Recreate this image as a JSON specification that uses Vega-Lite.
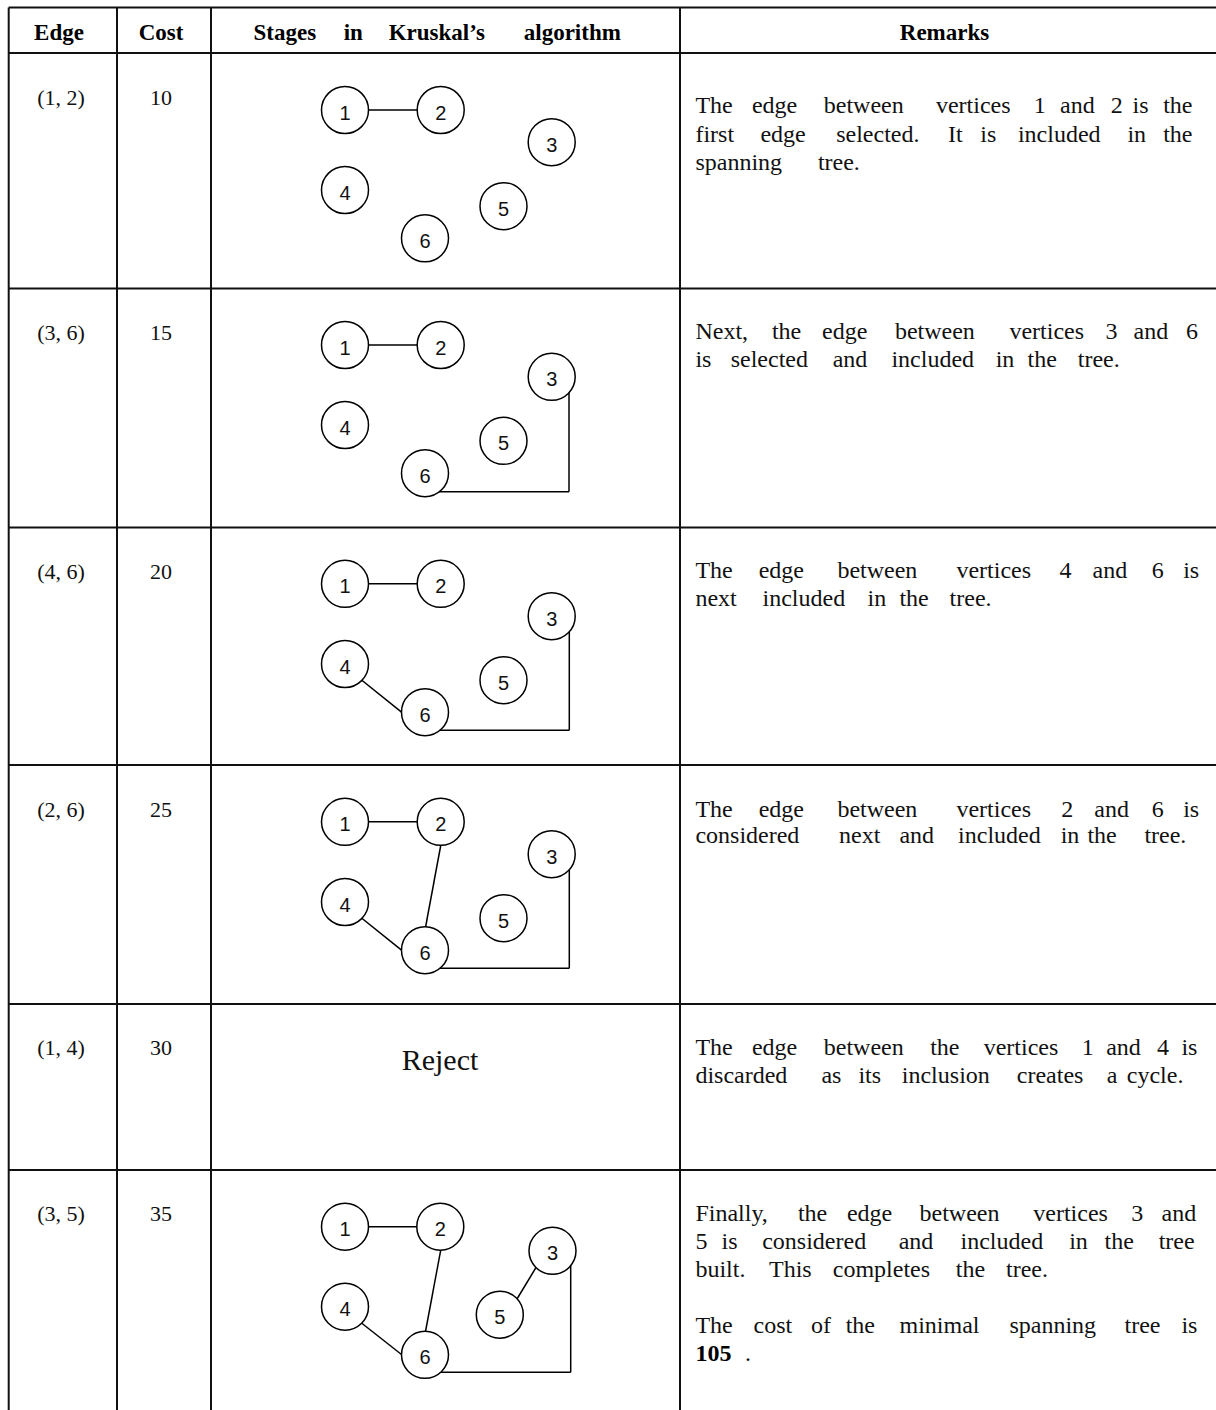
{
  "$schema": "https://vega.github.io/schema/vega-lite/v6.json",
  "width": 1216,
  "height": 1410,
  "autosize": {"type": "none"},
  "padding": 0,
  "background": "white",
  "config": {"view": {"stroke": null}},
  "datasets": {
    "lines": [
      {"kind": "grid", "x": 8.7, "y": 7.5, "x2": 1216, "y2": 7.5},
      {"kind": "grid", "x": 8.7, "y": 53, "x2": 1216, "y2": 53},
      {"kind": "grid", "x": 8.7, "y": 288.5, "x2": 1216, "y2": 288.5},
      {"kind": "grid", "x": 8.7, "y": 527.5, "x2": 1216, "y2": 527.5},
      {"kind": "grid", "x": 8.7, "y": 765, "x2": 1216, "y2": 765},
      {"kind": "grid", "x": 8.7, "y": 1004, "x2": 1216, "y2": 1004},
      {"kind": "grid", "x": 8.7, "y": 1170, "x2": 1216, "y2": 1170},
      {"kind": "grid", "x": 8.7, "y": 7.5, "x2": 8.7, "y2": 1410},
      {"kind": "grid", "x": 117, "y": 7.5, "x2": 117, "y2": 1410},
      {"kind": "grid", "x": 211, "y": 7.5, "x2": 211, "y2": 1410},
      {"kind": "grid", "x": 680, "y": 7.5, "x2": 680, "y2": 1410},
      {"kind": "edge", "x": 345, "y": 110, "x2": 440.7, "y2": 110},
      {"kind": "edge", "x": 345, "y": 345, "x2": 440.7, "y2": 345},
      {"kind": "edge", "x": 569, "y": 376.8, "x2": 569, "y2": 491.7},
      {"kind": "edge", "x": 425, "y": 491.7, "x2": 569, "y2": 491.7},
      {"kind": "edge", "x": 345, "y": 583.8, "x2": 440.7, "y2": 583.8},
      {"kind": "edge", "x": 361.5, "y": 680, "x2": 401.5, "y2": 712.2},
      {"kind": "edge", "x": 569.3, "y": 616.2, "x2": 569.3, "y2": 730.3},
      {"kind": "edge", "x": 425, "y": 730.3, "x2": 569.3, "y2": 730.3},
      {"kind": "edge", "x": 345, "y": 821.8, "x2": 440.7, "y2": 821.8},
      {"kind": "edge", "x": 361.5, "y": 918, "x2": 401.5, "y2": 950.2},
      {"kind": "edge", "x": 441, "y": 844, "x2": 425.3, "y2": 928.5},
      {"kind": "edge", "x": 569.3, "y": 854.2, "x2": 569.3, "y2": 968.3},
      {"kind": "edge", "x": 425, "y": 968.3, "x2": 569.3, "y2": 968.3},
      {"kind": "edge", "x": 345, "y": 1226.7, "x2": 440.3, "y2": 1226.7},
      {"kind": "edge", "x": 361.5, "y": 1323, "x2": 401.5, "y2": 1354.5},
      {"kind": "edge", "x": 441, "y": 1248.7, "x2": 425.3, "y2": 1332.5},
      {"kind": "edge", "x": 536, "y": 1267.5, "x2": 517.3, "y2": 1298.5},
      {"kind": "edge", "x": 570.7, "y": 1250.8, "x2": 570.7, "y2": 1372.3},
      {"kind": "edge", "x": 425, "y": 1372.3, "x2": 570.7, "y2": 1372.3}
    ],
    "nodes": [
      {"n": "1", "x": 345, "y": 110}, {"n": "2", "x": 440.7, "y": 110}, {"n": "3", "x": 551.7, "y": 142.2},
      {"n": "4", "x": 345, "y": 190}, {"n": "5", "x": 503.5, "y": 206.2}, {"n": "6", "x": 425, "y": 238.3},
      {"n": "1", "x": 345, "y": 345}, {"n": "2", "x": 440.7, "y": 345}, {"n": "3", "x": 551.7, "y": 376.8},
      {"n": "4", "x": 345, "y": 425}, {"n": "5", "x": 503.5, "y": 440.8}, {"n": "6", "x": 425, "y": 473.2},
      {"n": "1", "x": 345, "y": 583.8}, {"n": "2", "x": 440.7, "y": 583.8}, {"n": "3", "x": 551.7, "y": 616.2},
      {"n": "4", "x": 345, "y": 664}, {"n": "5", "x": 503.5, "y": 680.2}, {"n": "6", "x": 425, "y": 712.2},
      {"n": "1", "x": 345, "y": 821.8}, {"n": "2", "x": 440.7, "y": 821.8}, {"n": "3", "x": 551.7, "y": 854.2},
      {"n": "4", "x": 345, "y": 902}, {"n": "5", "x": 503.5, "y": 918.2}, {"n": "6", "x": 425, "y": 950.2},
      {"n": "1", "x": 345, "y": 1226.7}, {"n": "2", "x": 440.3, "y": 1226.7}, {"n": "3", "x": 552.5, "y": 1250.8},
      {"n": "4", "x": 345, "y": 1306.7}, {"n": "5", "x": 499.8, "y": 1314.7}, {"n": "6", "x": 425, "y": 1354.8}
    ],
    "texts": [
      {"role": "header", "t": "Edge", "x": 59, "y": 39.5},
      {"role": "header", "t": "Cost", "x": 161, "y": 39.5},
      {"role": "header", "t": "Stages", "x": 284.8, "y": 39.5},
      {"role": "header", "t": "in", "x": 353.3, "y": 39.5},
      {"role": "header", "t": "Kruskal’s", "x": 436.8, "y": 39.5},
      {"role": "header", "t": "algorithm", "x": 572.3, "y": 39.5},
      {"role": "header", "t": "Remarks", "x": 944.5, "y": 39.5},
      {"role": "cell", "t": "(1, 2)", "x": 61, "y": 104.5},
      {"role": "cell", "t": "10", "x": 161, "y": 104.5},
      {"role": "cell", "t": "(3, 6)", "x": 61, "y": 340},
      {"role": "cell", "t": "15", "x": 161, "y": 340},
      {"role": "cell", "t": "(4, 6)", "x": 61, "y": 579},
      {"role": "cell", "t": "20", "x": 161, "y": 579},
      {"role": "cell", "t": "(2, 6)", "x": 61, "y": 817},
      {"role": "cell", "t": "25", "x": 161, "y": 817},
      {"role": "cell", "t": "(1, 4)", "x": 61, "y": 1055},
      {"role": "cell", "t": "30", "x": 161, "y": 1055},
      {"role": "cell", "t": "(3, 5)", "x": 61, "y": 1221},
      {"role": "cell", "t": "35", "x": 161, "y": 1221},
      {"role": "reject", "t": "Reject", "x": 440, "y": 1070},
      {"role": "remark", "t": "The", "x": 695.4, "y": 113.3},
      {"role": "remark", "t": "edge", "x": 751.9, "y": 113.3},
      {"role": "remark", "t": "between", "x": 823.8, "y": 113.3},
      {"role": "remark", "t": "vertices", "x": 935.9, "y": 113.3},
      {"role": "remark", "t": "1", "x": 1033.8, "y": 113.3},
      {"role": "remark", "t": "and", "x": 1060.1, "y": 113.3},
      {"role": "remark", "t": "2", "x": 1110.8, "y": 113.3},
      {"role": "remark", "t": "is", "x": 1132.5, "y": 113.3},
      {"role": "remark", "t": "the", "x": 1163.2, "y": 113.3},
      {"role": "remark", "t": "first", "x": 695.4, "y": 141.7},
      {"role": "remark", "t": "edge", "x": 760.4, "y": 141.7},
      {"role": "remark", "t": "selected.", "x": 836.2, "y": 141.7},
      {"role": "remark", "t": "It", "x": 947.9, "y": 141.7},
      {"role": "remark", "t": "is", "x": 980.3, "y": 141.7},
      {"role": "remark", "t": "included", "x": 1017.9, "y": 141.7},
      {"role": "remark", "t": "in", "x": 1127.4, "y": 141.7},
      {"role": "remark", "t": "the", "x": 1163.2, "y": 141.7},
      {"role": "remark", "t": "spanning", "x": 695.4, "y": 170},
      {"role": "remark", "t": "tree.", "x": 817.9, "y": 170},
      {"role": "remark", "t": "Next,", "x": 695.4, "y": 339},
      {"role": "remark", "t": "the", "x": 771.9, "y": 339},
      {"role": "remark", "t": "edge", "x": 822, "y": 339},
      {"role": "remark", "t": "between", "x": 894.9, "y": 339},
      {"role": "remark", "t": "vertices", "x": 1009.4, "y": 339},
      {"role": "remark", "t": "3", "x": 1105.6, "y": 339},
      {"role": "remark", "t": "and", "x": 1133.6, "y": 339},
      {"role": "remark", "t": "6", "x": 1186, "y": 339},
      {"role": "remark", "t": "is", "x": 695.4, "y": 366.7},
      {"role": "remark", "t": "selected", "x": 730.7, "y": 366.7},
      {"role": "remark", "t": "and", "x": 832.7, "y": 366.7},
      {"role": "remark", "t": "included", "x": 891.4, "y": 366.7},
      {"role": "remark", "t": "in", "x": 995.7, "y": 366.7},
      {"role": "remark", "t": "the", "x": 1027.6, "y": 366.7},
      {"role": "remark", "t": "tree.", "x": 1077.8, "y": 366.7},
      {"role": "remark", "t": "The", "x": 695.4, "y": 578.3},
      {"role": "remark", "t": "edge", "x": 758.7, "y": 578.3},
      {"role": "remark", "t": "between", "x": 837.4, "y": 578.3},
      {"role": "remark", "t": "vertices", "x": 956.4, "y": 578.3},
      {"role": "remark", "t": "4", "x": 1059.5, "y": 578.3},
      {"role": "remark", "t": "and", "x": 1092.6, "y": 578.3},
      {"role": "remark", "t": "6", "x": 1151.8, "y": 578.3},
      {"role": "remark", "t": "is", "x": 1183.2, "y": 578.3},
      {"role": "remark", "t": "next", "x": 695.4, "y": 605.7},
      {"role": "remark", "t": "included", "x": 762.5, "y": 605.7},
      {"role": "remark", "t": "in", "x": 867.5, "y": 605.7},
      {"role": "remark", "t": "the", "x": 899.4, "y": 605.7},
      {"role": "remark", "t": "tree.", "x": 949.6, "y": 605.7},
      {"role": "remark", "t": "The", "x": 695.4, "y": 816.7},
      {"role": "remark", "t": "edge", "x": 758.7, "y": 816.7},
      {"role": "remark", "t": "between", "x": 837.4, "y": 816.7},
      {"role": "remark", "t": "vertices", "x": 956.4, "y": 816.7},
      {"role": "remark", "t": "2", "x": 1061.2, "y": 816.7},
      {"role": "remark", "t": "and", "x": 1094.3, "y": 816.7},
      {"role": "remark", "t": "6", "x": 1151.8, "y": 816.7},
      {"role": "remark", "t": "is", "x": 1183.2, "y": 816.7},
      {"role": "remark", "t": "considered", "x": 695.4, "y": 843.3},
      {"role": "remark", "t": "next", "x": 839.1, "y": 843.3},
      {"role": "remark", "t": "and", "x": 899.4, "y": 843.3},
      {"role": "remark", "t": "included", "x": 958.1, "y": 843.3},
      {"role": "remark", "t": "in", "x": 1060.7, "y": 843.3},
      {"role": "remark", "t": "the", "x": 1087.4, "y": 843.3},
      {"role": "remark", "t": "tree.", "x": 1144.4, "y": 843.3},
      {"role": "remark", "t": "The", "x": 695.4, "y": 1055},
      {"role": "remark", "t": "edge", "x": 751.9, "y": 1055},
      {"role": "remark", "t": "between", "x": 823.8, "y": 1055},
      {"role": "remark", "t": "the", "x": 930.2, "y": 1055},
      {"role": "remark", "t": "vertices", "x": 983.7, "y": 1055},
      {"role": "remark", "t": "1", "x": 1081.7, "y": 1055},
      {"role": "remark", "t": "and", "x": 1106.2, "y": 1055},
      {"role": "remark", "t": "4", "x": 1156.9, "y": 1055},
      {"role": "remark", "t": "is", "x": 1181.4, "y": 1055},
      {"role": "remark", "t": "discarded", "x": 695.4, "y": 1082.7},
      {"role": "remark", "t": "as", "x": 821.4, "y": 1082.7},
      {"role": "remark", "t": "its", "x": 858.4, "y": 1082.7},
      {"role": "remark", "t": "inclusion", "x": 901.8, "y": 1082.7},
      {"role": "remark", "t": "creates", "x": 1016.8, "y": 1082.7},
      {"role": "remark", "t": "a", "x": 1106.7, "y": 1082.7},
      {"role": "remark", "t": "cycle.", "x": 1126.8, "y": 1082.7},
      {"role": "remark", "t": "Finally,", "x": 695.4, "y": 1220.7},
      {"role": "remark", "t": "the", "x": 797.9, "y": 1220.7},
      {"role": "remark", "t": "edge", "x": 846.9, "y": 1220.7},
      {"role": "remark", "t": "between", "x": 919.5, "y": 1220.7},
      {"role": "remark", "t": "vertices", "x": 1033.3, "y": 1220.7},
      {"role": "remark", "t": "3", "x": 1131.3, "y": 1220.7},
      {"role": "remark", "t": "and", "x": 1161.5, "y": 1220.7},
      {"role": "remark", "t": "5", "x": 695.4, "y": 1249},
      {"role": "remark", "t": "is", "x": 721.5, "y": 1249},
      {"role": "remark", "t": "considered", "x": 762.2, "y": 1249},
      {"role": "remark", "t": "and", "x": 898.7, "y": 1249},
      {"role": "remark", "t": "included", "x": 960.5, "y": 1249},
      {"role": "remark", "t": "in", "x": 1069.2, "y": 1249},
      {"role": "remark", "t": "the", "x": 1104.5, "y": 1249},
      {"role": "remark", "t": "tree", "x": 1158.7, "y": 1249},
      {"role": "remark", "t": "built.", "x": 695.4, "y": 1277.3},
      {"role": "remark", "t": "This", "x": 769, "y": 1277.3},
      {"role": "remark", "t": "completes", "x": 832.8, "y": 1277.3},
      {"role": "remark", "t": "the", "x": 955.8, "y": 1277.3},
      {"role": "remark", "t": "tree.", "x": 1006, "y": 1277.3},
      {"role": "remark", "t": "The", "x": 695.4, "y": 1333.3},
      {"role": "remark", "t": "cost", "x": 753.6, "y": 1333.3},
      {"role": "remark", "t": "of", "x": 811.1, "y": 1333.3},
      {"role": "remark", "t": "the", "x": 845.7, "y": 1333.3},
      {"role": "remark", "t": "minimal", "x": 899.5, "y": 1333.3},
      {"role": "remark", "t": "spanning", "x": 1009.4, "y": 1333.3},
      {"role": "remark", "t": "tree", "x": 1124.5, "y": 1333.3},
      {"role": "remark", "t": "is", "x": 1181.4, "y": 1333.3},
      {"role": "remarkbold", "t": "105", "x": 695.4, "y": 1360.7},
      {"role": "remark", "t": ".", "x": 745, "y": 1360.7}
    ]
  },
  "encoding": {
    "x": {"field": "x", "type": "quantitative", "scale": {"domain": [0, 1216], "nice": false, "zero": false}, "axis": null},
    "y": {"field": "y", "type": "quantitative", "scale": {"domain": [0, 1410], "nice": false, "zero": false, "reverse": true}, "axis": null}
  },
  "layer": [
    {
      "data": {"name": "lines"},
      "transform": [{"filter": "datum.kind === 'grid'"}],
      "mark": {"type": "rule", "stroke": "#111111", "strokeWidth": 2},
      "encoding": {"x2": {"field": "x2"}, "y2": {"field": "y2"}}
    },
    {
      "data": {"name": "lines"},
      "transform": [{"filter": "datum.kind === 'edge'"}],
      "mark": {"type": "rule", "stroke": "#000000", "strokeWidth": 1.5},
      "encoding": {"x2": {"field": "x2"}, "y2": {"field": "y2"}}
    },
    {
      "data": {"name": "nodes"},
      "mark": {"type": "point", "shape": "circle", "filled": true, "fill": "white", "stroke": "black", "strokeWidth": 1.5, "size": 2209, "opacity": 1, "fillOpacity": 1, "strokeOpacity": 1}
    },
    {
      "data": {"name": "nodes"},
      "mark": {"type": "text", "font": "Liberation Sans, Arial, sans-serif", "fontSize": 20, "align": "center", "baseline": "alphabetic", "dy": 9.5, "color": "#111111"},
      "encoding": {"text": {"field": "n"}}
    },
    {
      "data": {"name": "texts"},
      "transform": [{"filter": "datum.role === 'header'"}],
      "mark": {"type": "text", "font": "Liberation Serif, Times New Roman, serif", "fontWeight": "bold", "fontSize": 23, "align": "center", "baseline": "alphabetic", "color": "#000000"},
      "encoding": {"text": {"field": "t"}}
    },
    {
      "data": {"name": "texts"},
      "transform": [{"filter": "datum.role === 'cell'"}],
      "mark": {"type": "text", "font": "Liberation Serif, Times New Roman, serif", "fontSize": 22, "align": "center", "baseline": "alphabetic", "color": "#111111"},
      "encoding": {"text": {"field": "t"}}
    },
    {
      "data": {"name": "texts"},
      "transform": [{"filter": "datum.role === 'reject'"}],
      "mark": {"type": "text", "font": "Liberation Serif, Times New Roman, serif", "fontSize": 30, "align": "center", "baseline": "alphabetic", "color": "#111111"},
      "encoding": {"text": {"field": "t"}}
    },
    {
      "data": {"name": "texts"},
      "transform": [{"filter": "datum.role === 'remark'"}],
      "mark": {"type": "text", "font": "Liberation Serif, Times New Roman, serif", "fontSize": 24, "align": "left", "baseline": "alphabetic", "color": "#111111"},
      "encoding": {"text": {"field": "t"}}
    },
    {
      "data": {"name": "texts"},
      "transform": [{"filter": "datum.role === 'remarkbold'"}],
      "mark": {"type": "text", "font": "Liberation Serif, Times New Roman, serif", "fontWeight": "bold", "fontSize": 24, "align": "left", "baseline": "alphabetic", "color": "#000000"},
      "encoding": {"text": {"field": "t"}}
    }
  ]
}
